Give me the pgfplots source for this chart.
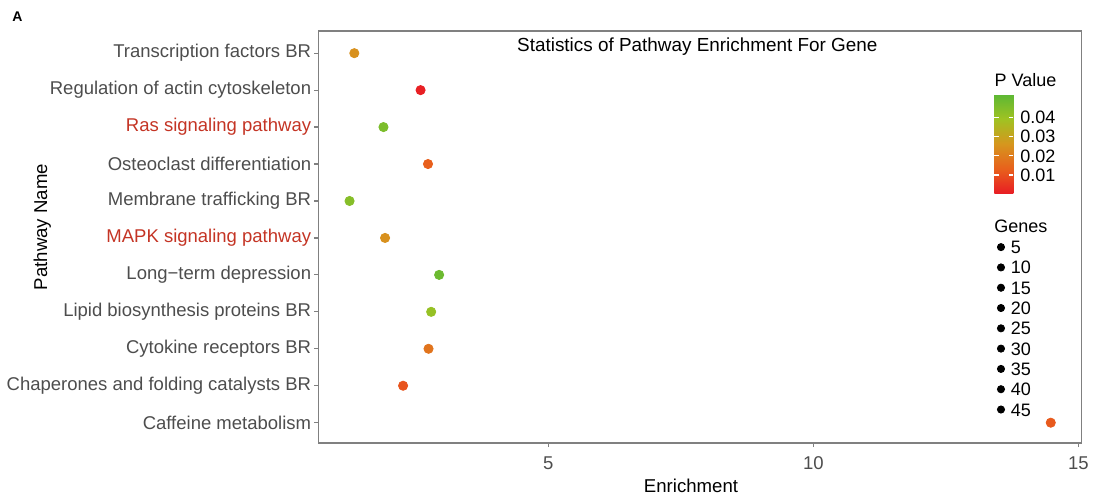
\documentclass[border=0pt]{standalone}
\usepackage{fontspec}
\setmainfont{Liberation Sans}
\usepackage{pgfplots}
\pgfplotsset{compat=1.18}
\usetikzlibrary{calc}
\definecolor{tickgray}{RGB}{77,77,77}
\definecolor{framegray}{RGB}{128,128,128}
\definecolor{labred}{RGB}{196,52,36}
\pgfplotstableread{
x y p
14.48 1 0.012
2.26 2 0.011
2.74 3 0.018
2.79 4 0.041
2.94 5 0.049
1.92 6 0.025
1.25 7 0.044
2.73 8 0.013
1.89 9 0.046
2.59 10 0.001
1.34 11 0.025
}\pathdata
\begin{document}
\begin{tikzpicture}
\useasboundingbox (-159.25pt,-26pt) rectangle (388.75pt,221.5pt);
\begin{axis}[
  at={(0,0)}, anchor=south west, clip=false,
  scale only axis, width=381.5pt, height=206pt,
  xmin=0.664, xmax=15.06, ymin=0.45, ymax=11.6,
  xtick={5,10,15}, ytick={1,...,11},
  yticklabels={{Caffeine metabolism},{Chaperones and folding catalysts BR},{Cytokine receptors BR},{Lipid biosynthesis proteins BR},{Long−term depression},{\textcolor{labred}{MAPK signaling pathway}},{Membrane trafficking BR},{Osteoclast differentiation},{\textcolor{labred}{Ras signaling pathway}},{Regulation of actin cytoskeleton},{Transcription factors BR}},
  tick align=outside, major tick length=2pt,
  xtick pos=bottom, ytick pos=left,
  tick style={framegray, line width=0.6pt},
  axis line style={framegray, line width=0.7pt},
  ticklabel style={font=\fontsize{9.25}{11}\selectfont, text=tickgray},
  yticklabel style={inner sep=0pt, xshift=-1.5pt},
  xticklabel style={inner sep=0pt, yshift=-4.6pt},
  /pgf/number format/assume math mode=true,
  colormap={pv}{rgb255=(232,28,36) rgb255=(232,96,28) rgb255=(214,150,30) rgb255=(160,194,34) rgb255=(92,184,52)},
  point meta min=0.0003, point meta max=0.052,
  colorbar,
  colorbar style={
    at={($(parent axis.south west)+(329.36pt,124.65pt)$)}, anchor=south west,
    scale only axis, width=9.5pt, height=49.7pt,
    scaled y ticks=false,
    ytick={0.01,0.02,0.03,0.04},
    yticklabels={0.01,0.02,0.03,0.04},
    ytick pos=both, yticklabel pos=right,
    tick align=inside, major tick length=2.2pt,
    tick style={white, line width=0.6pt},
    axis line style={draw=none},
    yticklabel style={font=\fontsize{9}{10}\selectfont, text=black, inner sep=0pt, xshift=3.35pt},
  },
  legend style={at={(0.8887,0.4922)}, anchor=north west, draw=none, fill=none,
    inner sep=0pt, row sep=3.65pt, column sep=2.95pt,
    nodes={inner sep=0pt, text height=6.5pt, text depth=0pt, font=\fontsize{9}{10}\selectfont}},
  legend cell align=left,
  legend image code/.code={\fill[black] (1.8pt,0pt) circle (1.8pt);},
]
\addplot[scatter, only marks, mark=*, mark size=2.3pt,
  scatter/use mapped color={draw=mapped color, fill=mapped color},
  point meta=explicit, forget plot] table[x=x, y=y, meta=p] {\pathdata};
\addlegendimage{black}\addlegendentry{5}
\addlegendimage{black}\addlegendentry{10}
\addlegendimage{black}\addlegendentry{15}
\addlegendimage{black}\addlegendentry{20}
\addlegendimage{black}\addlegendentry{25}
\addlegendimage{black}\addlegendentry{30}
\addlegendimage{black}\addlegendentry{35}
\addlegendimage{black}\addlegendentry{40}
\addlegendimage{black}\addlegendentry{45}
\node[anchor=base, inner sep=0pt, font=\fontsize{9.45}{11}\selectfont] at (axis description cs:0.4965,0.9498) {Statistics of Pathway Enrichment For Gene};
\node[anchor=base, inner sep=0pt, font=\fontsize{9.3}{11}\selectfont] at (axis description cs:0.4882,-0.1201) {Enrichment};
\node[anchor=base, rotate=90, inner sep=0pt, font=\fontsize{9.3}{11}\selectfont] at (axis description cs:-0.3558,0.5243) {Pathway Name};
\node[anchor=base west, inner sep=0pt, font=\fontsize{7}{8}\selectfont\bfseries] at (axis description cs:-0.4017,1.0226) {A};
\node[anchor=base west, inner sep=0pt, font=\fontsize{9}{10}\selectfont] at (axis description cs:0.8857,0.8641) {P Value};
\node[anchor=base west, inner sep=0pt, font=\fontsize{9}{10}\selectfont] at (axis description cs:0.8853,0.5121) {Genes};
\end{axis}
\end{tikzpicture}
\end{document}
